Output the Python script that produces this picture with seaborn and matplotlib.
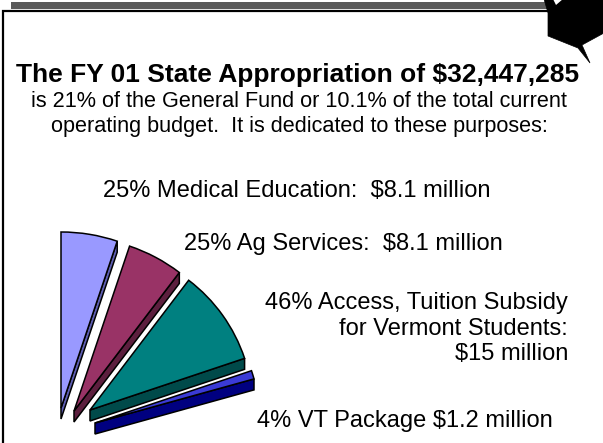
import numpy as np
import matplotlib
matplotlib.use("Agg")
import matplotlib.pyplot as plt
from matplotlib.patches import Wedge, Polygon, Rectangle
import seaborn as sns

# ---------------- data ----------------
categories = ["Medical Education", "Ag Services",
              "Access, Tuition Subsidy for Vermont Students", "VT Package"]
shares_pct = [25, 25, 46, 4]
amounts_musd = [8.1, 8.1, 15, 1.2]
label_texts = [
    "25% Medical Education:  $8.1 million",
    "25% Ag Services:  $8.1 million",
    "46% Access, Tuition Subsidy\nfor Vermont Students:\n$15 million",
    "4% VT Package $1.2 million",
]
title_text = "The FY 01 State Appropriation of $32,447,285"
subtitle_lines = [
    "is 21% of the General Fund or 10.1% of the total current",
    "operating budget.  It is dedicated to these purposes:",
]

# ---------------- style ----------------
sns.set_theme(style="white")
plt.rcParams["font.family"] = ["Liberation Sans", "DejaVu Sans"]
plt.rcParams["text.color"] = "black"

top_colors = ["#9999FF", "#993366", "#008080", "#3B3BD6"]
side_colors = ["#5E5EB2", "#5C1F3E", "#004A4A", "#000080"]
apexes = [(61, 408), (74, 411), (90, 410), (95, 423)]
radii = [176, 174, 163, 165]
DEPTH = 11
DEG_PER_PCT = 0.745
START_DEG = 90
draw_order = [0, 1, 3, 2]

W, H = 603, 443
fig = plt.figure(figsize=(W / 100, H / 100), dpi=100)
ax = fig.add_axes([0, 0, 1, 1])
ax.set_xlim(0, W)
ax.set_ylim(H, 0)
ax.axis("off")

# frame decoration
ax.add_patch(Rectangle((11, 2), 536, 7, facecolor="#5A5A5A", edgecolor="none", zorder=1))
ax.plot([2.5, 2.5, 548], [H + 5, 10.5, 10.5], color="black", lw=1.6,
        solid_joinstyle="miter", zorder=2)
ax.add_patch(Polygon([(544, -1), (548, 13), (548, 36), (578, 48), (590, 63),
                      (582, 45), (604, 33), (604, -1)],
                     closed=True, facecolor="black", edgecolor="black", lw=0.5, zorder=3))
ax.add_patch(Polygon([(553, -1), (556, 5), (563, -1)], closed=True,
                     facecolor="white", edgecolor="none", zorder=4))

# pie wedges (3D exploded look)
cum = np.concatenate([[0], np.cumsum(shares_pct)[:-1]])
his = [START_DEG - DEG_PER_PCT * c for c in cum]
los = [h - DEG_PER_PCT * s for h, s in zip(his, shares_pct)]

z = 5
for i in draw_order:
    cx, cy = apexes[i]
    r = radii[i]
    hi, lo = his[i], los[i]
    ox = cx + r * np.cos(np.radians(lo))
    oy = cy - r * np.sin(np.radians(lo))
    side = Polygon([(cx, cy), (ox, oy), (ox, oy + DEPTH), (cx, cy + DEPTH)],
                   closed=True, facecolor=side_colors[i], edgecolor="black",
                   lw=1.1, joinstyle="miter", zorder=z)
    ax.add_patch(side)
    top = Wedge((cx, cy), r, -hi, -lo, facecolor=top_colors[i],
                edgecolor="black", lw=1.1, zorder=z + 1)
    ax.add_patch(top)
    z += 2

# texts
ax.text(298, 82, title_text, ha="center", va="baseline", fontsize=19,
        fontweight="bold", color="black")
ax.text(299, 107, subtitle_lines[0], ha="center", va="baseline", fontsize=15.6, color="black")
ax.text(299, 132, subtitle_lines[1], ha="center", va="baseline", fontsize=15.6, color="black")

ax.text(297, 197, label_texts[0], ha="center", va="baseline", fontsize=17, color="black")
ax.text(343, 250, label_texts[1], ha="center", va="baseline", fontsize=17, color="black")
ax.text(568, 360, label_texts[2], ha="right", va="baseline", fontsize=17,
        multialignment="right", linespacing=1.2, color="black")
ax.text(405, 427, label_texts[3], ha="center", va="baseline", fontsize=17, color="black")

fig.savefig("out.png", dpi=100, facecolor="white")
